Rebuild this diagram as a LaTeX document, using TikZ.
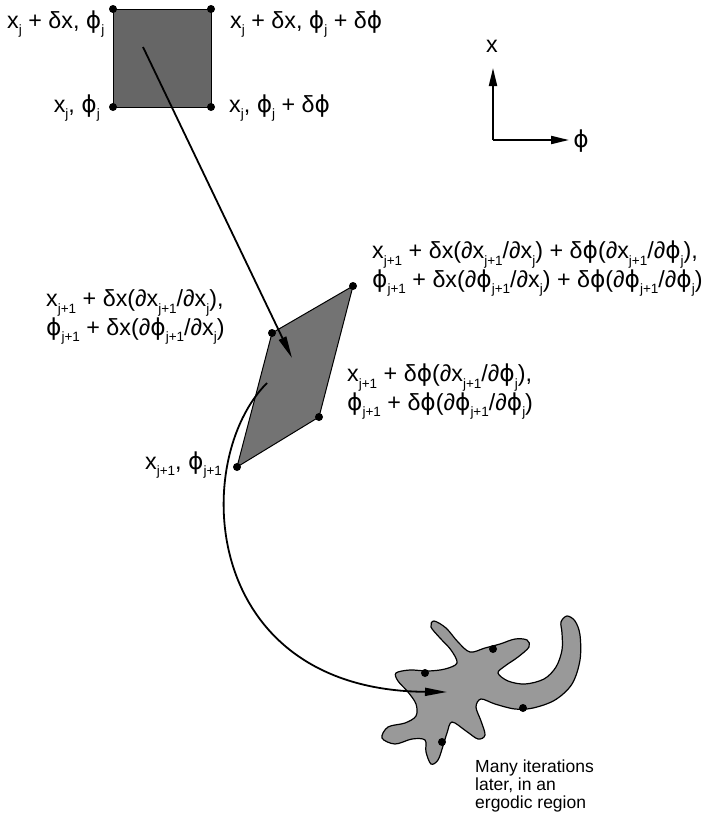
\documentclass[tikz,border=0pt]{standalone}
\usepackage{fontspec}
\setmainfont{Liberation Sans}
\newfontfamily\gk{DejaVu Sans}
\usetikzlibrary{arrows.meta}
\newcommand\ph{{\gk ϕ}}
\newcommand\sbs[1]{\raisebox{-0.3em}{\fontsize{13.5}{13.5}\selectfont #1}}
\begin{document}
\begin{tikzpicture}[x=1pt,y=-1pt,
  lbl/.style={font=\fontsize{23.3}{26}\selectfont, inner sep=0pt, align=left},
  note/.style={font=\fontsize{17.5}{18}\selectfont, inner sep=0pt, align=left},
  dot/.style={circle,fill=black,inner sep=0pt,minimum size=8pt},
  arr/.style={line width=1.8pt,-{Triangle[length=22pt,width=8pt]}},
  axarr/.style={line width=2pt,-{Triangle[length=18pt,width=8pt]}}]
\useasboundingbox (0,0) rectangle (707,827);
% square
\coordinate (s1) at (113,9);
\coordinate (s2) at (211,9);
\coordinate (s3) at (211,107);
\coordinate (s4) at (113,107);
\filldraw[fill=black!60,draw=black,line width=1pt] (s1) -- (s2) -- (s3) -- (s4) -- cycle;
\foreach \p in {s1,s2,s3,s4} \node[dot] at (\p) {};
\node[lbl,anchor=base west] (l1) at (7,28) {x\sbs{j} + δx, \ph\sbs{j}};
\node[lbl,anchor=base west] (l2) at (230,28) {x\sbs{j} + δx, \ph\sbs{j} + δ\ph};
\node[lbl,anchor=base east] (l3) at (100,112) {x\sbs{j}, \ph\sbs{j}};
\node[lbl,anchor=base west] (l4) at (229,112) {x\sbs{j}, \ph\sbs{j} + δ\ph};
% axes
\coordinate (o) at (493,140);
\coordinate (ay) at (493,68);
\coordinate (ax) at (569,140);
\node[lbl] (xl) at (492,46) {x};
\node[lbl] (pl) at (581,141) {\ph};
\draw[axarr] (o) -- (ay);
\draw[axarr] (o) -- (ax);
% parallelogram
\coordinate (p0) at (237,467);
\coordinate (p1) at (272,333);
\coordinate (p2) at (353,286);
\coordinate (p3) at (319,417);
\filldraw[fill=black!55,draw=black,line width=1pt] (p0) -- (p1) -- (p2) -- (p3) -- cycle;
\foreach \p in {p0,p1,p2,p3} \node[dot] at (\p) {};
% straight arrow
\coordinate (a0) at (143,47);
\coordinate (a1) at (292,358);
\draw[arr] (a0) -- (a1);
% labels of parallelogram
\node[lbl,anchor=base west] (m1) at (372,287) {x\sbs{j+1} + δx(∂x\sbs{j+1}/∂x\sbs{j}) + δ\ph(∂x\sbs{j+1}/∂\ph\sbs{j}),\\
\ph\sbs{j+1} + δx(∂\ph\sbs{j+1}/∂x\sbs{j}) + δ\ph(∂\ph\sbs{j+1}/∂\ph\sbs{j})};
\node[lbl,anchor=base west] (m2) at (46,335) {x\sbs{j+1} + δx(∂x\sbs{j+1}/∂x\sbs{j}),\\
\ph\sbs{j+1} + δx(∂\ph\sbs{j+1}/∂x\sbs{j})};
\node[lbl,anchor=base west] (m3) at (347,410) {x\sbs{j+1} + δ\ph(∂x\sbs{j+1}/∂\ph\sbs{j}),\\
\ph\sbs{j+1} + δ\ph(∂\ph\sbs{j+1}/∂\ph\sbs{j})};
\node[lbl,anchor=base west] (m4) at (145,469) {x\sbs{j+1}, \ph\sbs{j+1}};
% blob
\filldraw[fill=black!40,draw=black,line width=1.2pt]
 plot[smooth cycle,tension=0.55] coordinates {
 (434,621) (446,628) (458,642) (470,652)
 (485,648) (500,644) (515,639) (527,640) (529,647) (518,657) (505,666) (498,673)
 (508,681) (525,684) (544,679) (556,667) (562,650) (562,633) (561,622) (567,616) (575,621)
 (580,635) (580,660) (572,684) (555,700) (533,708) (515,709) (495,704) (481,699)
 (476,707) (481,721) (485,735) (478,739) (466,731) (452,722)
 (447,733) (443,746) (438,760) (431,764) (426,752) (425,740)
 (412,739) (395,744) (382,738) (388,727) (405,723) (416,716)
 (416,704) (408,692) (398,681) (396,673) (410,670) (428,671) (445,669) (457,663)
 (451,650) (440,638) (431,627)};
\foreach \p in {(425,673),(493,649),(523,708),(442,742)} \node[dot] at \p {};
% curved arrow
\coordinate (c0) at (267,383);
\coordinate (c1) at (447,692);
\draw[arr] (c0) .. controls (190,460) and (200,690) .. (c1);
\node[note,anchor=north west] (n) at (475,760) {Many iterations\\later, in an\\ergodic region};
\end{tikzpicture}
\end{document}
